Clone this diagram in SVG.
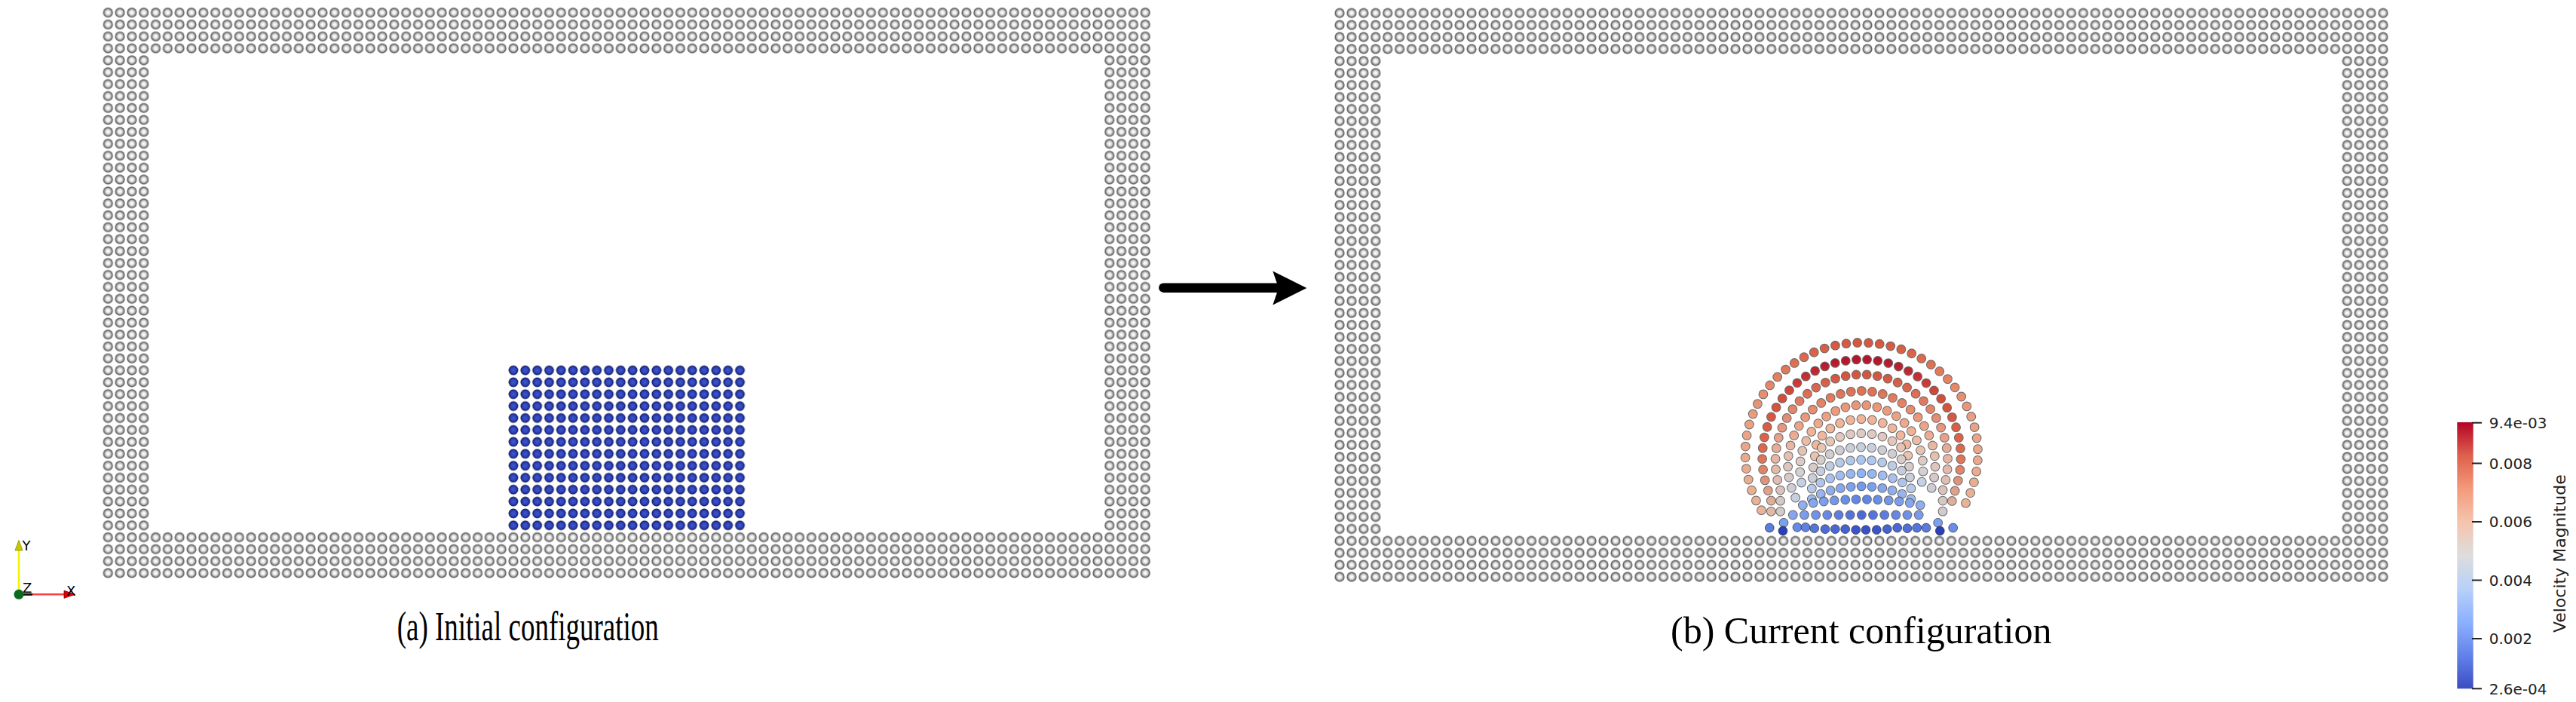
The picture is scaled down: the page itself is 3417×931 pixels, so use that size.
<svg xmlns="http://www.w3.org/2000/svg" width="3417" height="931" viewBox="0 0 3417 931">
<style>
.po{fill:none;stroke:#2b2b2b;stroke-opacity:.7;stroke-width:12.8;stroke-linecap:round}
.pc{fill:none;stroke-width:10.8;stroke-linecap:round}
.pd{stroke:#2b2b2b;stroke-opacity:.7;stroke-width:1}
.cap{font-family:"Liberation Serif","Times New Roman",serif;fill:#000}
.cb{font-family:"DejaVu Sans",sans-serif;font-size:20px;fill:#222}
.ax{font-family:"DejaVu Sans",sans-serif;font-size:18px;fill:#000}
.tick{stroke:#222;stroke-width:2}
</style>
<defs>
<radialGradient id="gw" cx="0.5" cy="0.5" r="0.5">
<stop offset="0" stop-color="#ffffff"/><stop offset="0.35" stop-color="#eeeeee"/><stop offset="0.65" stop-color="#aaaaaa"/><stop offset="0.84" stop-color="#606060"/><stop offset="1" stop-color="#888888"/>
</radialGradient>
<radialGradient id="gb" cx="0.5" cy="0.5" r="0.5">
<stop offset="0" stop-color="#3f56d2"/><stop offset="0.6" stop-color="#2e42b8"/><stop offset="0.85" stop-color="#19257e"/><stop offset="1" stop-color="#0d1240"/>
</radialGradient>
<pattern id="pw1" patternUnits="userSpaceOnUse" x="135.39" y="8.79" width="15.815" height="15.815">
<circle cx="7.9075" cy="7.9075" r="6.7" fill="url(#gw)"/>
</pattern>
<pattern id="pb1" patternUnits="userSpaceOnUse" x="135.39" y="8.79" width="15.815" height="15.815">
<circle cx="7.9075" cy="7.9075" r="6.4" fill="url(#gb)"/>
</pattern>
<pattern id="pw2" patternUnits="userSpaceOnUse" x="1769.045" y="9.345" width="15.91" height="15.91">
<circle cx="7.955" cy="7.955" r="6.7" fill="url(#gw)"/>
</pattern>
<linearGradient id="gd1" gradientUnits="userSpaceOnUse" x1="0" y1="454" x2="0" y2="677">
<stop offset="0" stop-color="#d4573e"/><stop offset="0.2" stop-color="#e3805f"/><stop offset="0.45" stop-color="#e9a083"/><stop offset="1" stop-color="#ebb397"/>
</linearGradient>
<linearGradient id="gd2" gradientUnits="userSpaceOnUse" x1="0" y1="477" x2="0" y2="678">
<stop offset="0" stop-color="#b3162c"/><stop offset="0.22" stop-color="#d24a3a"/><stop offset="0.6" stop-color="#de6a4c"/><stop offset="1" stop-color="#e0bba8"/>
</linearGradient>
<linearGradient id="gd3" gradientUnits="userSpaceOnUse" x1="0" y1="497" x2="0" y2="678">
<stop offset="0" stop-color="#d3553d"/><stop offset="0.25" stop-color="#e3846a"/><stop offset="0.6" stop-color="#e7b4a0"/><stop offset="1" stop-color="#d2cbcc"/>
</linearGradient>
<linearGradient id="gd4" gradientUnits="userSpaceOnUse" x1="0" y1="518" x2="0" y2="660">
<stop offset="0" stop-color="#df7053"/><stop offset="0.3" stop-color="#eda081"/><stop offset="0.65" stop-color="#e4c3b6"/><stop offset="1" stop-color="#c6cfe0"/>
</linearGradient>
<linearGradient id="gd5" gradientUnits="userSpaceOnUse" x1="0" y1="537" x2="0" y2="640">
<stop offset="0" stop-color="#ec9474"/><stop offset="0.4" stop-color="#f0b79b"/><stop offset="0.8" stop-color="#d8d0cf"/><stop offset="1" stop-color="#c4d0e6"/>
</linearGradient>
<linearGradient id="gl6" gradientUnits="userSpaceOnUse" x1="2395" y1="0" x2="2545" y2="0">
<stop offset="0" stop-color="#eeb79c"/><stop offset="0.5" stop-color="#f2b396"/><stop offset="1" stop-color="#eeb79c"/>
</linearGradient>
<linearGradient id="gl7" gradientUnits="userSpaceOnUse" x1="2395" y1="0" x2="2545" y2="0">
<stop offset="0" stop-color="#ecc0ac"/><stop offset="0.5" stop-color="#dccbc5"/><stop offset="1" stop-color="#ecc0ac"/>
</linearGradient>
<linearGradient id="gl8" gradientUnits="userSpaceOnUse" x1="2395" y1="0" x2="2545" y2="0">
<stop offset="0" stop-color="#dbcac2"/><stop offset="0.5" stop-color="#c5cfdf"/><stop offset="1" stop-color="#dbcac2"/>
</linearGradient>
<linearGradient id="gl9" gradientUnits="userSpaceOnUse" x1="2395" y1="0" x2="2545" y2="0">
<stop offset="0" stop-color="#cfcfd6"/><stop offset="0.5" stop-color="#a9c5f2"/><stop offset="1" stop-color="#cfcfd6"/>
</linearGradient>
<linearGradient id="gl10" gradientUnits="userSpaceOnUse" x1="2395" y1="0" x2="2545" y2="0">
<stop offset="0" stop-color="#bccbe6"/><stop offset="0.5" stop-color="#8eb2f6"/><stop offset="1" stop-color="#bccbe6"/>
</linearGradient>
<linearGradient id="gl11" gradientUnits="userSpaceOnUse" x1="2395" y1="0" x2="2545" y2="0">
<stop offset="0" stop-color="#a6bfee"/><stop offset="0.5" stop-color="#7199ef"/><stop offset="1" stop-color="#a6bfee"/>
</linearGradient>
<linearGradient id="gl12" gradientUnits="userSpaceOnUse" x1="2385" y1="0" x2="2555" y2="0">
<stop offset="0" stop-color="#93b2f2"/><stop offset="0.5" stop-color="#5b82e6"/><stop offset="1" stop-color="#93b2f2"/>
</linearGradient>
<linearGradient id="gl13" gradientUnits="userSpaceOnUse" x1="2375" y1="0" x2="2565" y2="0">
<stop offset="0" stop-color="#86a8f2"/><stop offset="0.5" stop-color="#4b69d6"/><stop offset="1" stop-color="#86a8f2"/>
</linearGradient>
<linearGradient id="gcb" x1="0" y1="1" x2="0" y2="0">
<stop offset="0" stop-color="#3b4cc0"/><stop offset="0.125" stop-color="#6282ea"/><stop offset="0.25" stop-color="#8db0fe"/><stop offset="0.375" stop-color="#b8d0f9"/><stop offset="0.5" stop-color="#dddddd"/><stop offset="0.625" stop-color="#f5c4ad"/><stop offset="0.75" stop-color="#f49a7b"/><stop offset="0.875" stop-color="#de604d"/><stop offset="1" stop-color="#b40426"/>
</linearGradient>
<path id="d1" d="M2336.5 676.7A154.3 147.3 0 1 1 2602.1 676.7"/>
<path id="d2" d="M2349.3 678.3L2349.3 660.3A131.7 130 0 1 1 2589.3 660.3L2589.3 678.3"/>
<path id="d3" d="M2361.6 678.3L2361.6 650.2A114.3 115 0 1 1 2577 650.2L2577 678.3"/>
<path id="d4" d="M2381.6 660A97.7 98.3 0 1 1 2557 660"/>
<path id="d5" d="M2389.6 640A81.7 84.3 0 1 1 2549 640"/>
<path id="l6" d="M2409.3 590A64 52.6 0 0 1 2529.3 590"/>
<path id="l7" d="M2407.3 605A68 51.5 0 0 1 2531.3 605"/>
<path id="l8" d="M2405.3 620A72 49.8 0 0 1 2533.3 620"/>
<path id="l9" d="M2404.3 634A75 48.2 0 0 1 2534.3 634"/>
<path id="l10" d="M2403.3 648A78 43.5 0 0 1 2535.3 648"/>
<path id="l11" d="M2403.3 662A79 37.8 0 0 1 2535.3 662"/>
<path id="l12" d="M2391.3 670A97.5 19.3 0 0 1 2547.3 670"/>
<path id="r13" d="M2378.3 683L2560.3 683"/>
</defs>
<rect x="0" y="0" width="3417" height="931" fill="#ffffff"/>

<g id="box-initial">
<rect x="135.39" y="8.79" width="1391.72" height="63.26" fill="url(#pw1)"/>
<rect x="135.39" y="704.65" width="1391.72" height="63.26" fill="url(#pw1)"/>
<rect x="135.39" y="72.05" width="63.26" height="632.6" fill="url(#pw1)"/>
<rect x="1463.85" y="72.05" width="63.26" height="632.6" fill="url(#pw1)"/>
</g>
<g id="fluid-initial">
<rect x="673.1" y="483.24" width="316.3" height="221.41" fill="url(#pb1)"/>
</g>

<g id="box-current">
<rect x="1769.045" y="9.345" width="1400.08" height="63.64" fill="url(#pw2)"/>
<rect x="1769.045" y="709.385" width="1400.08" height="63.64" fill="url(#pw2)"/>
<rect x="1769.045" y="72.985" width="63.64" height="636.4" fill="url(#pw2)"/>
<rect x="3105.485" y="72.985" width="63.64" height="636.4" fill="url(#pw2)"/>
</g>

<g id="droplet-current">
<use href="#d1" class="po" stroke-dasharray="0 14.77"/><use href="#d1" class="pc" stroke="url(#gd1)" stroke-dasharray="0 14.77"/>
<use href="#d2" class="po" stroke-dasharray="0 14.3"/><use href="#d2" class="pc" stroke="url(#gd2)" stroke-dasharray="0 14.3"/>
<use href="#d3" class="po" stroke-dasharray="0 14.13"/><use href="#d3" class="pc" stroke="url(#gd3)" stroke-dasharray="0 14.13"/>
<use href="#d4" class="po" stroke-dasharray="0 14.19"/><use href="#d4" class="pc" stroke="url(#gd4)" stroke-dasharray="0 14.19"/>
<use href="#d5" class="po" stroke-dasharray="0 14.14"/><use href="#d5" class="pc" stroke="url(#gd5)" stroke-dasharray="0 14.14"/>
<use href="#l6" class="po" stroke-dasharray="0 14.5"/><use href="#l6" class="pc" stroke="url(#gl6)" stroke-dasharray="0 14.5"/>
<use href="#l7" class="po" stroke-dasharray="0 14.3"/><use href="#l7" class="pc" stroke="url(#gl7)" stroke-dasharray="0 14.3"/>
<use href="#l8" class="po" stroke-dasharray="0 14.2"/><use href="#l8" class="pc" stroke="url(#gl8)" stroke-dasharray="0 14.2"/>
<use href="#l9" class="po" stroke-dasharray="0 14.1"/><use href="#l9" class="pc" stroke="url(#gl9)" stroke-dasharray="0 14.1"/>
<use href="#l10" class="po" stroke-dasharray="0 14.03"/><use href="#l10" class="pc" stroke="url(#gl10)" stroke-dasharray="0 14.03"/>
<use href="#l11" class="po" stroke-dasharray="0 13.78"/><use href="#l11" class="pc" stroke="url(#gl11)" stroke-dasharray="0 13.78"/>
<use href="#l12" class="po" stroke-dasharray="0 14.27"/><use href="#l12" class="pc" stroke="url(#gl12)" stroke-dasharray="0 14.27"/>
<use href="#r13" class="po" stroke-dasharray="0 15.17"/><use href="#r13" class="pc" stroke="url(#gl13)" stroke-dasharray="0 15.17"/>
<circle class="pd" cx="2347.3" cy="700" r="5.9" fill="#5a7ee0"/>
<circle class="pd" cx="2366" cy="693.3" r="5.9" fill="#7aa0f0"/>
<circle class="pd" cx="2365" cy="704" r="5.9" fill="#2b40b8"/>
<circle class="pd" cx="2384" cy="699.3" r="5.9" fill="#6688e8"/>
<circle class="pd" cx="2395" cy="699.3" r="5.9" fill="#5f80e0"/>
<circle class="pd" cx="2406.7" cy="700.7" r="5.9" fill="#5577dd"/>
<circle class="pd" cx="2421" cy="701.7" r="5.9" fill="#4d6cd6"/>
<circle class="pd" cx="2434.3" cy="701.7" r="5.9" fill="#4a68d4"/>
<circle class="pd" cx="2447.7" cy="701.7" r="5.9" fill="#4563d0"/>
<circle class="pd" cx="2461.7" cy="702.7" r="5.9" fill="#3b55c8"/>
<circle class="pd" cx="2475" cy="702.7" r="5.9" fill="#3a52c4"/>
<circle class="pd" cx="2489.3" cy="702.7" r="5.9" fill="#3b55c8"/>
<circle class="pd" cx="2503.3" cy="701.7" r="5.9" fill="#4563d0"/>
<circle class="pd" cx="2516.7" cy="700" r="5.9" fill="#4a68d4"/>
<circle class="pd" cx="2530" cy="700.7" r="5.9" fill="#5070d8"/>
<circle class="pd" cx="2542.7" cy="700" r="5.9" fill="#5575dc"/>
<circle class="pd" cx="2555" cy="700" r="5.9" fill="#5a7ae0"/>
<circle class="pd" cx="2570.7" cy="693.3" r="5.9" fill="#7aa0f0"/>
<circle class="pd" cx="2573.3" cy="704" r="5.9" fill="#2b40b8"/>
<circle class="pd" cx="2590.7" cy="700" r="5.9" fill="#6a8ee8"/>
</g>

<g id="connectors">
<path d="M1543.3 381.7H1700" stroke="#000" stroke-width="12.5" stroke-linecap="round" fill="none"/>
<polygon points="1733.3,382 1688.3,359.5 1696,382 1688.3,404.5" fill="#000"/>
</g>

<g id="axes">
<line x1="25" y1="788.3" x2="25" y2="729" stroke="#f2f200" stroke-width="2.5"/>
<polygon points="20,730 25,716.5 30,730" fill="#c8c800" stroke="#8a8a00" stroke-width="0.8"/>
<line x1="25" y1="788.3" x2="87" y2="788.3" stroke="#ff4040" stroke-width="2.5"/>
<line x1="25" y1="788.3" x2="43" y2="788.3" stroke="#111" stroke-width="3"/>
<polygon points="85,783.3 100,788.3 85,793.3" fill="#e00000" stroke="#800" stroke-width="0.8"/>
<circle cx="25" cy="788.3" r="6.5" fill="#0b6b1e"/>
<text class="ax" x="29.5" y="730">Y</text>
<text class="ax" x="30" y="786">Z</text>
<text class="ax" x="88" y="790">X</text>
</g>

<g id="colorbar">
<rect x="3259.3" y="560" width="21.4" height="353.3" fill="url(#gcb)"/>
<line class="tick" x1="3279" y1="560.7" x2="3292" y2="560.7"/>
<line class="tick" x1="3279" y1="614.5" x2="3292" y2="614.5"/>
<line class="tick" x1="3279" y1="692" x2="3292" y2="692"/>
<line class="tick" x1="3279" y1="769.5" x2="3292" y2="769.5"/>
<line class="tick" x1="3279" y1="847" x2="3292" y2="847"/>
<line class="tick" x1="3279" y1="913.3" x2="3292" y2="913.3"/>
<text class="cb" x="3301.7" y="568">9.4e-03</text>
<text class="cb" x="3301.7" y="621.8">0.008</text>
<text class="cb" x="3301.7" y="699.3">0.006</text>
<text class="cb" x="3301.7" y="776.8">0.004</text>
<text class="cb" x="3301.7" y="854.3">0.002</text>
<text class="cb" x="3301.7" y="920.6">2.6e-04</text>
<text class="cb" transform="translate(3403.3,734.2) rotate(-90)" text-anchor="middle" style="font-size:22px">Velocity Magnitude</text>
</g>

<g id="labels">
<text class="cap" x="526.7" y="849" font-size="54" textLength="347" lengthAdjust="spacingAndGlyphs">(a) Initial configuration</text>
<text class="cap" x="2216" y="852.7" font-size="50">(b) Current configuration</text>
</g>
</svg>
